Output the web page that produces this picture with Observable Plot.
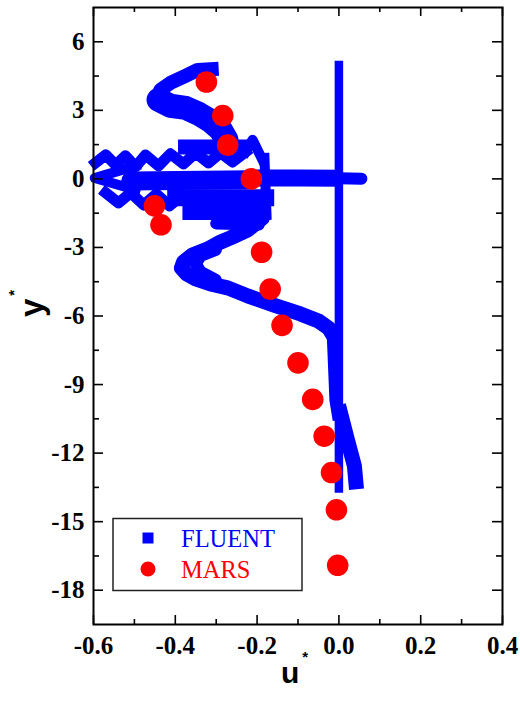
<!DOCTYPE html>
<html><head><meta charset="utf-8">
<script src="https://cdn.jsdelivr.net/npm/d3@7"></script>
<script src="https://cdn.jsdelivr.net/npm/@observablehq/plot@0.6"></script>
<style>
body{margin:0;background:#fff;}
#wrap{position:relative;width:520px;height:704px;overflow:hidden;}
#overlay{position:absolute;left:0;top:0;pointer-events:none;}
</style></head>
<body><div id="wrap"></div>
<script>
// ---- axis ticks ----
const xTicks = [-0.6, -0.4, -0.2, 0, 0.2, 0.4];
const xMinor = [-0.5, -0.3, -0.1, 0.1, 0.3];
const yTicks = [-18, -15, -12, -9, -6, -3, 0, 3, 6];
const yMinor = [-16.5, -13.5, -10.5, -7.5, -4.5, -1.5, 1.5, 4.5];

// ---- MARS series ----
const marsU = [-0.324, -0.284, -0.272, -0.214, -0.451, -0.435, -0.189, -0.168, -0.139, -0.100, -0.064, -0.036, -0.018, -0.006, -0.003];
const marsY = [4.24, 2.77, 1.48, 0.0, -1.18, -2.01, -3.21, -4.82, -6.41, -8.05, -9.65, -11.26, -12.85, -14.48, -16.91];

// ---- FLUENT series (u*, y*) read along the dense bands ----
const fluentCenterline = [[0, 5.17], [0, -13.74]];
const fluentJet = [[-0.216, 0.04], [-0.094, 0.04], [0.0, 0.03]];
const fluentJetTip = [[0.0, 0.03], [0.055, 0.01]];
const fluentUpperArmTop = [[-0.294, 4.82], [-0.345, 4.77], [-0.375, 4.51], [-0.412, 4.20], [-0.436, 3.90], [-0.446, 3.55]];
const fluentUpperArmLow = [[-0.441, 3.46], [-0.412, 3.20], [-0.375, 3.11], [-0.343, 2.85], [-0.314, 2.54], [-0.289, 2.15], [-0.275, 1.71]];
const fluentCoreTop = [[-0.375, 1.40], [-0.233, 1.40]];
const fluentCorePeak = [[-0.228, 1.18], [-0.211, 1.71], [-0.187, 0.83]];
const fluentCoreEdge = [[-0.182, 0.92], [-0.177, -1.58]];
const fluentZigUpper = [[-0.595, 0.70], [-0.570, 1.05], [-0.546, 0.61], [-0.522, 1.01], [-0.497, 0.53], [-0.473, 1.05], [-0.441, 0.57], [-0.412, 1.10], [-0.380, 0.66], [-0.350, 1.14], [-0.319, 0.70], [-0.289, 1.14], [-0.260, 0.74], [-0.228, 1.18]];
const fluentChevron = [[-0.497, 0.57], [-0.597, 0.04], [-0.497, -0.48]];
const fluentCoreMid = [[-0.509, -0.09], [-0.216, -0.04]];
const fluentZigLower = [[-0.570, -0.61], [-0.539, -1.05], [-0.509, -0.61], [-0.477, -1.14], [-0.446, -0.66], [-0.414, -1.18], [-0.382, -0.70], [-0.350, -1.23], [-0.319, -0.74], [-0.287, -1.27], [-0.255, -0.83], [-0.221, -1.27]];
const fluentCoreLow1 = [[-0.399, -0.83], [-0.179, -0.83]];
const fluentCoreLow2 = [[-0.363, -1.45], [-0.187, -1.45]];
const fluentCoreLow3 = [[-0.300, -1.95], [-0.196, -2.00]];
const fluentLowerS = [[-0.187, -1.71], [-0.223, -2.23], [-0.265, -2.58], [-0.289, -2.76], [-0.321, -3.07], [-0.358, -3.33], [-0.380, -3.64], [-0.385, -3.90], [-0.372, -4.16], [-0.350, -4.38], [-0.314, -4.60], [-0.272, -4.77], [-0.223, -5.12], [-0.160, -5.52], [-0.094, -5.91], [-0.050, -6.22], [-0.025, -6.53], [-0.013, -6.88]];
const fluentLowerTurn = [[-0.301, -3.11], [-0.338, -3.37], [-0.350, -3.72], [-0.338, -4.07], [-0.301, -4.42]];
const fluentNearWall = [[-0.018, -6.61], [-0.011, -9.68], [-0.003, -10.56]];
const fluentWedge = [[-0.001, -9.90], [0.021, -11.43], [0.038, -12.57], [0.043, -13.58]];

const legendLabels = ["FLUENT", "MARS"];

const BLUE = "#0000ff", RED = "#ff0000";
const W = 520, H = 704, mL = 93, mR = 18, mT = 7, mB = 80;
const pw = W - mL - mR, ph = H - mT - mB;
const serif = "'Liberation Serif','Times New Roman',serif";
const sans = "'Liberation Sans',Arial,sans-serif";

const mars = marsU.map((u, i) => ({u, y: marsY[i]}));
const band = (pts, w, cap = "round") => Plot.line(pts, {x: d => d[0], y: d => d[1], stroke: BLUE, strokeWidth: w, strokeLinecap: cap, strokeLinejoin: "round"});

const chart = Plot.plot({
  width: W, height: H,
  marginLeft: mL, marginRight: mR, marginTop: mT, marginBottom: mB,
  x: {domain: [-0.6, 0.4]},
  y: {domain: [-19.5, 7.5]},
  style: {background: "#fff", color: "#000", fontFamily: serif, fontSize: "25px", fontWeight: "bold"},
  marks: [
    band(fluentCenterline, 8.5, "butt"),
    band(fluentJet, 17, "butt"),
    band(fluentJetTip, 12),
    band(fluentUpperArmTop, 14, "butt"),
    band(fluentUpperArmLow, 24),
    band(fluentCoreTop, 15, "square"),
    band(fluentCorePeak, 10, "square"),
    band(fluentCoreEdge, 10, "square"),
    band(fluentZigUpper, 11, "square"),
    band(fluentChevron, 10, "square"),
    band(fluentCoreMid, 19),
    band(fluentZigLower, 11, "square"),
    band(fluentCoreLow1, 17, "square"),
    band(fluentCoreLow2, 16, "square"),
    band(fluentCoreLow3, 12),
    band(fluentLowerS, 15),
    band(fluentLowerTurn, 12),
    band(fluentNearWall, 10, "butt"),
    band(fluentWedge, 15, "butt"),
    Plot.dot(mars, {x: "u", y: "y", r: 10.8, fill: RED, stroke: "none"}),
    // inward ticks on all four sides
    Plot.tickX(xTicks, {x: d => d, insetTop: ph - 9, stroke: "#000", strokeWidth: 1.6}),
    Plot.tickX(xMinor, {x: d => d, insetTop: ph - 5, stroke: "#000", strokeWidth: 1.6}),
    Plot.tickX(xTicks, {x: d => d, insetBottom: ph - 9, stroke: "#000", strokeWidth: 1.6}),
    Plot.tickX(xMinor, {x: d => d, insetBottom: ph - 5, stroke: "#000", strokeWidth: 1.6}),
    Plot.tickY(yTicks, {y: d => d, insetRight: pw - 10, stroke: "#000", strokeWidth: 1.6}),
    Plot.tickY(yMinor, {y: d => d, insetRight: pw - 6, stroke: "#000", strokeWidth: 1.6}),
    Plot.tickY(yTicks, {y: d => d, insetLeft: pw - 10, stroke: "#000", strokeWidth: 1.6}),
    Plot.tickY(yMinor, {y: d => d, insetLeft: pw - 6, stroke: "#000", strokeWidth: 1.6}),
    Plot.axisX(xTicks, {anchor: "bottom", tickSize: 0, tickPadding: 12, tickFormat: d => d.toFixed(1), label: null, fontSize: 25, fontWeight: "bold", fontFamily: serif}),
    Plot.axisY(yTicks, {anchor: "left", tickSize: 0, tickPadding: 9, tickFormat: d => String(d), label: null, fontSize: 25, fontWeight: "bold", fontFamily: serif}),
    Plot.frame({stroke: "#000", strokeWidth: 2})
  ]
});

const wrap = document.getElementById("wrap");
wrap.appendChild(chart);

// overlay: axis titles and legend
const svg = d3.select(wrap).append("svg").attr("id", "overlay").attr("width", W).attr("height", H);

const ux = svg.append("text").attr("x", 281).attr("y", 683).attr("font-family", sans).attr("font-weight", "bold").attr("font-size", 30).attr("fill", "#000");
ux.append("tspan").text("u");
ux.append("tspan").attr("dx", 3).attr("dy", -21).attr("font-size", 15).text("*");

const uy = svg.append("text").attr("transform", "translate(43,317) rotate(-90)").attr("font-family", sans).attr("font-weight", "bold").attr("font-size", 33).attr("fill", "#000");
uy.append("tspan").text("y");
uy.append("tspan").attr("dx", 3).attr("dy", -24).attr("font-size", 15).text("*");

const lg = svg.append("g");
lg.append("rect").attr("x", 113).attr("y", 518.5).attr("width", 189).attr("height", 72).attr("fill", "#fff").attr("stroke", "#222").attr("stroke-width", 1.5);
lg.append("rect").attr("x", 142.5).attr("y", 532.5).attr("width", 11).attr("height", 11).attr("fill", BLUE);
lg.append("circle").attr("cx", 148).attr("cy", 569).attr("r", 7.5).attr("fill", RED);
lg.append("text").attr("x", 181).attr("y", 547).attr("font-family", serif).attr("font-size", 24.5).attr("fill", BLUE).text(legendLabels[0]);
lg.append("text").attr("x", 181).attr("y", 578).attr("font-family", serif).attr("font-size", 24.5).attr("fill", RED).text(legendLabels[1]);
</script>
</body></html>
